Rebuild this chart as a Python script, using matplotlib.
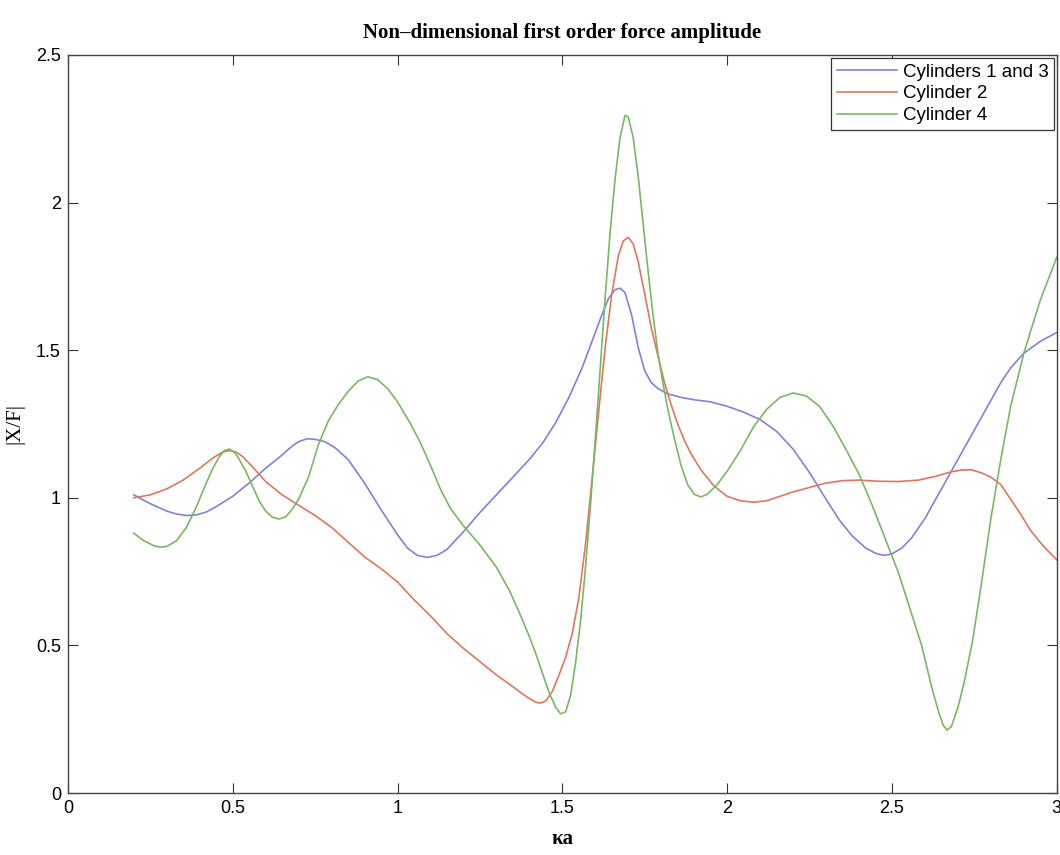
import matplotlib
matplotlib.use("Agg")
import matplotlib.pyplot as plt

# values
ka_13 = [0.20, 0.25, 0.30, 0.33, 0.36, 0.39, 0.42, 0.45, 0.50, 0.55, 0.60, 0.65,
         0.68, 0.70, 0.725, 0.75, 0.78, 0.81, 0.85, 0.90, 0.95, 1.00, 1.03, 1.06,
         1.09, 1.12, 1.15, 1.20, 1.25, 1.30, 1.35, 1.40, 1.44, 1.48, 1.52, 1.56,
         1.60, 1.62, 1.64, 1.66, 1.675, 1.69, 1.71, 1.73, 1.75, 1.77, 1.79, 1.82,
         1.86, 1.90, 1.95, 2.00, 2.05, 2.10, 2.15, 2.20, 2.25, 2.30, 2.34, 2.38,
         2.42, 2.45, 2.475, 2.50, 2.53, 2.56, 2.60, 2.65, 2.70, 2.75, 2.80, 2.83,
         2.86, 2.90, 2.95, 3.00]
amp_13 = [1.01, 0.98, 0.955, 0.945, 0.94, 0.942, 0.952, 0.97, 1.005, 1.05, 1.10, 1.145,
          1.175, 1.19, 1.20, 1.198, 1.19, 1.17, 1.13, 1.05, 0.96, 0.875, 0.83, 0.805,
          0.798, 0.805, 0.825, 0.885, 0.95, 1.01, 1.07, 1.13, 1.185, 1.255, 1.34, 1.44,
          1.56, 1.62, 1.675, 1.705, 1.71, 1.695, 1.62, 1.51, 1.43, 1.39, 1.37, 1.352,
          1.34, 1.332, 1.325, 1.31, 1.29, 1.265, 1.225, 1.165, 1.085, 0.995, 0.925, 0.87,
          0.83, 0.812, 0.805, 0.81, 0.83, 0.865, 0.93, 1.03, 1.13, 1.23, 1.33, 1.39,
          1.44, 1.49, 1.53, 1.56]

ka_2 = [0.20, 0.25, 0.30, 0.35, 0.40, 0.44, 0.47, 0.49, 0.51, 0.53, 0.56, 0.60,
        0.65, 0.70, 0.75, 0.80, 0.85, 0.90, 0.95, 1.00, 1.05, 1.10, 1.15, 1.20,
        1.25, 1.30, 1.35, 1.38, 1.40, 1.42, 1.435, 1.45, 1.47, 1.49, 1.51, 1.53,
        1.55, 1.57, 1.59, 1.61, 1.63, 1.65, 1.67, 1.685, 1.70, 1.715, 1.73, 1.75,
        1.77, 1.79, 1.81, 1.83, 1.85, 1.87, 1.89, 1.92, 1.96, 2.00, 2.04, 2.08,
        2.12, 2.16, 2.20, 2.25, 2.30, 2.35, 2.40, 2.46, 2.52, 2.58, 2.63, 2.68,
        2.71, 2.74, 2.77, 2.80, 2.83, 2.86, 2.89, 2.92, 2.96, 3.00]
amp_2 = [1.00, 1.01, 1.03, 1.06, 1.10, 1.135, 1.155, 1.16, 1.155, 1.14, 1.105, 1.055,
         1.01, 0.975, 0.94, 0.90, 0.85, 0.80, 0.76, 0.715, 0.655, 0.60, 0.54, 0.49,
         0.445, 0.40, 0.36, 0.335, 0.32, 0.307, 0.305, 0.312, 0.345, 0.40, 0.46, 0.54,
         0.66, 0.84, 1.06, 1.29, 1.51, 1.69, 1.82, 1.87, 1.882, 1.86, 1.80, 1.69,
         1.575, 1.48, 1.39, 1.315, 1.25, 1.195, 1.15, 1.095, 1.04, 1.005, 0.99, 0.985,
         0.99, 1.005, 1.02, 1.035, 1.05, 1.058, 1.06, 1.056, 1.055, 1.06, 1.072, 1.088,
         1.094, 1.095, 1.085, 1.07, 1.045, 0.995, 0.945, 0.89, 0.835, 0.79]

ka_4 = [0.20, 0.23, 0.26, 0.28, 0.30, 0.33, 0.36, 0.39, 0.42, 0.44, 0.46, 0.475,
        0.49, 0.505, 0.52, 0.54, 0.56, 0.58, 0.60, 0.62, 0.64, 0.66, 0.68, 0.70,
        0.73, 0.76, 0.79, 0.82, 0.85, 0.88, 0.91, 0.94, 0.97, 1.00, 1.04, 1.07,
        1.10, 1.13, 1.16, 1.20, 1.25, 1.30, 1.34, 1.37, 1.40, 1.42, 1.44, 1.46,
        1.48, 1.495, 1.51, 1.525, 1.54, 1.555, 1.57, 1.585, 1.60, 1.615, 1.63, 1.645,
        1.66, 1.675, 1.69, 1.70, 1.715, 1.73, 1.745, 1.76, 1.775, 1.79, 1.805, 1.82,
        1.84, 1.86, 1.88, 1.90, 1.92, 1.94, 1.97, 2.00, 2.04, 2.08, 2.12, 2.16,
        2.20, 2.24, 2.28, 2.32, 2.36, 2.40, 2.44, 2.48, 2.52, 2.56, 2.59, 2.62,
        2.64, 2.655, 2.667, 2.68, 2.70, 2.72, 2.745, 2.77, 2.80, 2.83, 2.86, 2.90,
        2.95, 3.00]
amp_4 = [0.88, 0.855, 0.838, 0.833, 0.835, 0.855, 0.90, 0.97, 1.05, 1.10, 1.14, 1.16,
         1.165, 1.155, 1.13, 1.09, 1.04, 0.99, 0.955, 0.935, 0.928, 0.935, 0.96, 0.995,
         1.07, 1.18, 1.26, 1.315, 1.36, 1.395, 1.41, 1.40, 1.37, 1.325, 1.25, 1.185,
         1.11, 1.03, 0.965, 0.905, 0.84, 0.765, 0.685, 0.61, 0.53, 0.47, 0.405, 0.34,
         0.29, 0.268, 0.275, 0.33, 0.44, 0.58, 0.76, 0.97, 1.20, 1.44, 1.68, 1.90,
         2.08, 2.22, 2.295, 2.29, 2.22, 2.09, 1.93, 1.77, 1.62, 1.49, 1.39, 1.30,
         1.20, 1.11, 1.045, 1.012, 1.003, 1.012, 1.045, 1.09, 1.16, 1.24, 1.30, 1.34,
         1.355, 1.345, 1.31, 1.245, 1.165, 1.08, 0.975, 0.86, 0.745, 0.605, 0.50, 0.36,
         0.28, 0.23, 0.213, 0.225, 0.29, 0.38, 0.52, 0.70, 0.93, 1.13, 1.31, 1.49,
         1.67, 1.815]

names = ["Cylinders 1 and 3", "Cylinder 2", "Cylinder 4"]
colors = ["#7c84d8", "#e0765c", "#78b864"]

fig = plt.figure(figsize=(10.6, 8.55), dpi=100)
ax = fig.add_axes([0.064, 0.0725, 0.933, 0.8632])

ax.plot(ka_13, amp_13, color=colors[0], lw=1.2, label=names[0], solid_joinstyle="round")
ax.plot(ka_2, amp_2, color=colors[1], lw=1.2, label=names[1], solid_joinstyle="round")
ax.plot(ka_4, amp_4, color=colors[2], lw=1.2, label=names[2], solid_joinstyle="round")

ax.set_xlim(0, 3)
ax.set_ylim(0, 2.5)
ax.set_xticks([0, 0.5, 1, 1.5, 2, 2.5, 3])
ax.set_xticklabels(["0", "0.5", "1", "1.5", "2", "2.5", "3"])
ax.set_yticks([0, 0.5, 1, 1.5, 2, 2.5])
ax.set_yticklabels(["0", "0.5", "1", "1.5", "2", "2.5"])
ax.tick_params(direction="in", length=7, width=0.8, top=True, right=True,
               labelsize=13, colors="#333333", pad=5)
for lab in ax.get_xticklabels() + ax.get_yticklabels():
    lab.set_family("Liberation Sans")
    lab.set_color("black")
for s in ax.spines.values():
    s.set_color("#444444")
    s.set_linewidth(1.0)

ax.set_title("Non\u2013dimensional first order force amplitude",
             family="Liberation Serif", fontsize=15, fontweight="bold", pad=12)
ax.set_xlabel("\u03baa", family="Liberation Serif", fontsize=15,
              fontweight="bold", labelpad=9)
ax.set_ylabel("|X/F|", family="Liberation Serif", fontsize=15, labelpad=8)

leg = ax.legend(loc="upper right", prop={"family": "Liberation Sans", "size": 13.5},
                frameon=True, fancybox=False, framealpha=1, edgecolor="#333333",
                handlelength=3.2, handletextpad=0.3, borderaxespad=0.15,
                labelspacing=0.25, borderpad=0.3)
leg.get_frame().set_linewidth(0.9)

fig.savefig("out.png", dpi=100)
